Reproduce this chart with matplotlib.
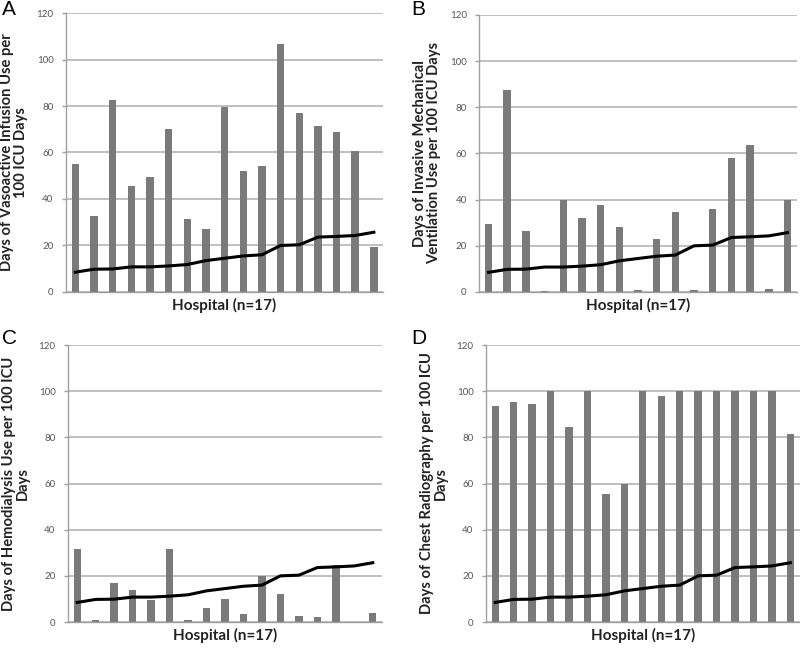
import matplotlib.pyplot as plt
import numpy as np

plt.rcParams['font.family'] = ['Lato', 'DejaVu Sans']

hospitals = np.arange(17)

# benchmark line (same in every panel)
trend = [8.5, 9.8, 9.9, 10.8, 10.8, 11.2, 11.8, 13.5, 14.5, 15.5, 16.0,
         20.0, 20.3, 23.6, 23.9, 24.3, 25.7]

vasoactive = [55, 32.5, 82.5, 45.5, 49.5, 70, 31.5, 27, 79.5, 52, 54,
              106.5, 77, 71.5, 69, 60.5, 19.5]
ventilation = [29.5, 87.5, 26.5, 0.5, 40, 32, 37.5, 28, 1, 23, 34.5,
               1, 36, 58, 63.5, 1.5, 40]
hemodialysis = [31.5, 1, 17, 14, 9.5, 31.5, 1, 6, 10, 3.5, 20,
                12, 2.5, 2, 24.5, 0, 4]
radiography = [93.5, 95.5, 94.5, 100, 84.5, 100, 55.5, 60, 100, 98, 100,
               100, 100, 100, 100, 100, 81.5]

panels = [
    ('A', vasoactive, 'Days of Vasoactive Infusion Use per\n100 ICU Days',
     [0.0825, 0.5515, 0.3965, 0.4285], (2, 0)),
    ('B', ventilation, 'Days of Invasive Mechanical\nVentilation Use per 100 ICU Days',
     [0.599, 0.5515, 0.397, 0.4255], (411, 0)),
    ('C', hemodialysis, 'Days of Hemodialysis Use per 100 ICU\nDays',
     [0.085, 0.0445, 0.3925, 0.4255], (2, 329)),
    ('D', radiography, 'Days of Chest Radiography per 100 ICU\nDays',
     [0.6075, 0.0445, 0.392, 0.4255], (411, 329)),
]

fig = plt.figure(figsize=(8, 6.51), dpi=100)

for letter, vals, ylab, rect, (lx, ly) in panels:
    ax = fig.add_axes(rect)
    ax.bar(hospitals, vals, width=0.4, color='#7a7a7a', zorder=2)
    ax.plot(hospitals, trend, color='black', lw=2.2, zorder=3)
    ax.set_xlim(-0.5, 16.5)
    ax.set_ylim(0, 120)
    ax.set_yticks(range(0, 121, 20))
    ax.set_xticks([])
    ax.yaxis.grid(True, color='#b4b4b4', lw=1.2, zorder=0)
    for s in ['top', 'right']:
        ax.spines[s].set_visible(False)
    ax.spines['left'].set_color('#a0a0a0')
    ax.spines['bottom'].set_color('#a0a0a0')
    ax.spines['left'].set_linewidth(1)
    ax.spines['bottom'].set_linewidth(1)
    ax.tick_params(axis='y', labelsize=7, colors='#a0a0a0', labelcolor='#555555',
                   length=3, width=1, pad=6)
    ax.set_ylabel(ylab, fontsize=10.6, fontweight='bold', color='#222222',
                  labelpad=6, linespacing=1.05)
    ax.set_xlabel('Hospital (n=17)', fontsize=11, fontweight='bold', color='#222222',
                  labelpad=4)
    fig.text(lx / 800, 1 - ly / 651, letter, fontsize=15, family='Liberation Sans',
             va='top', ha='left')

fig.savefig('out.png', dpi=100)
